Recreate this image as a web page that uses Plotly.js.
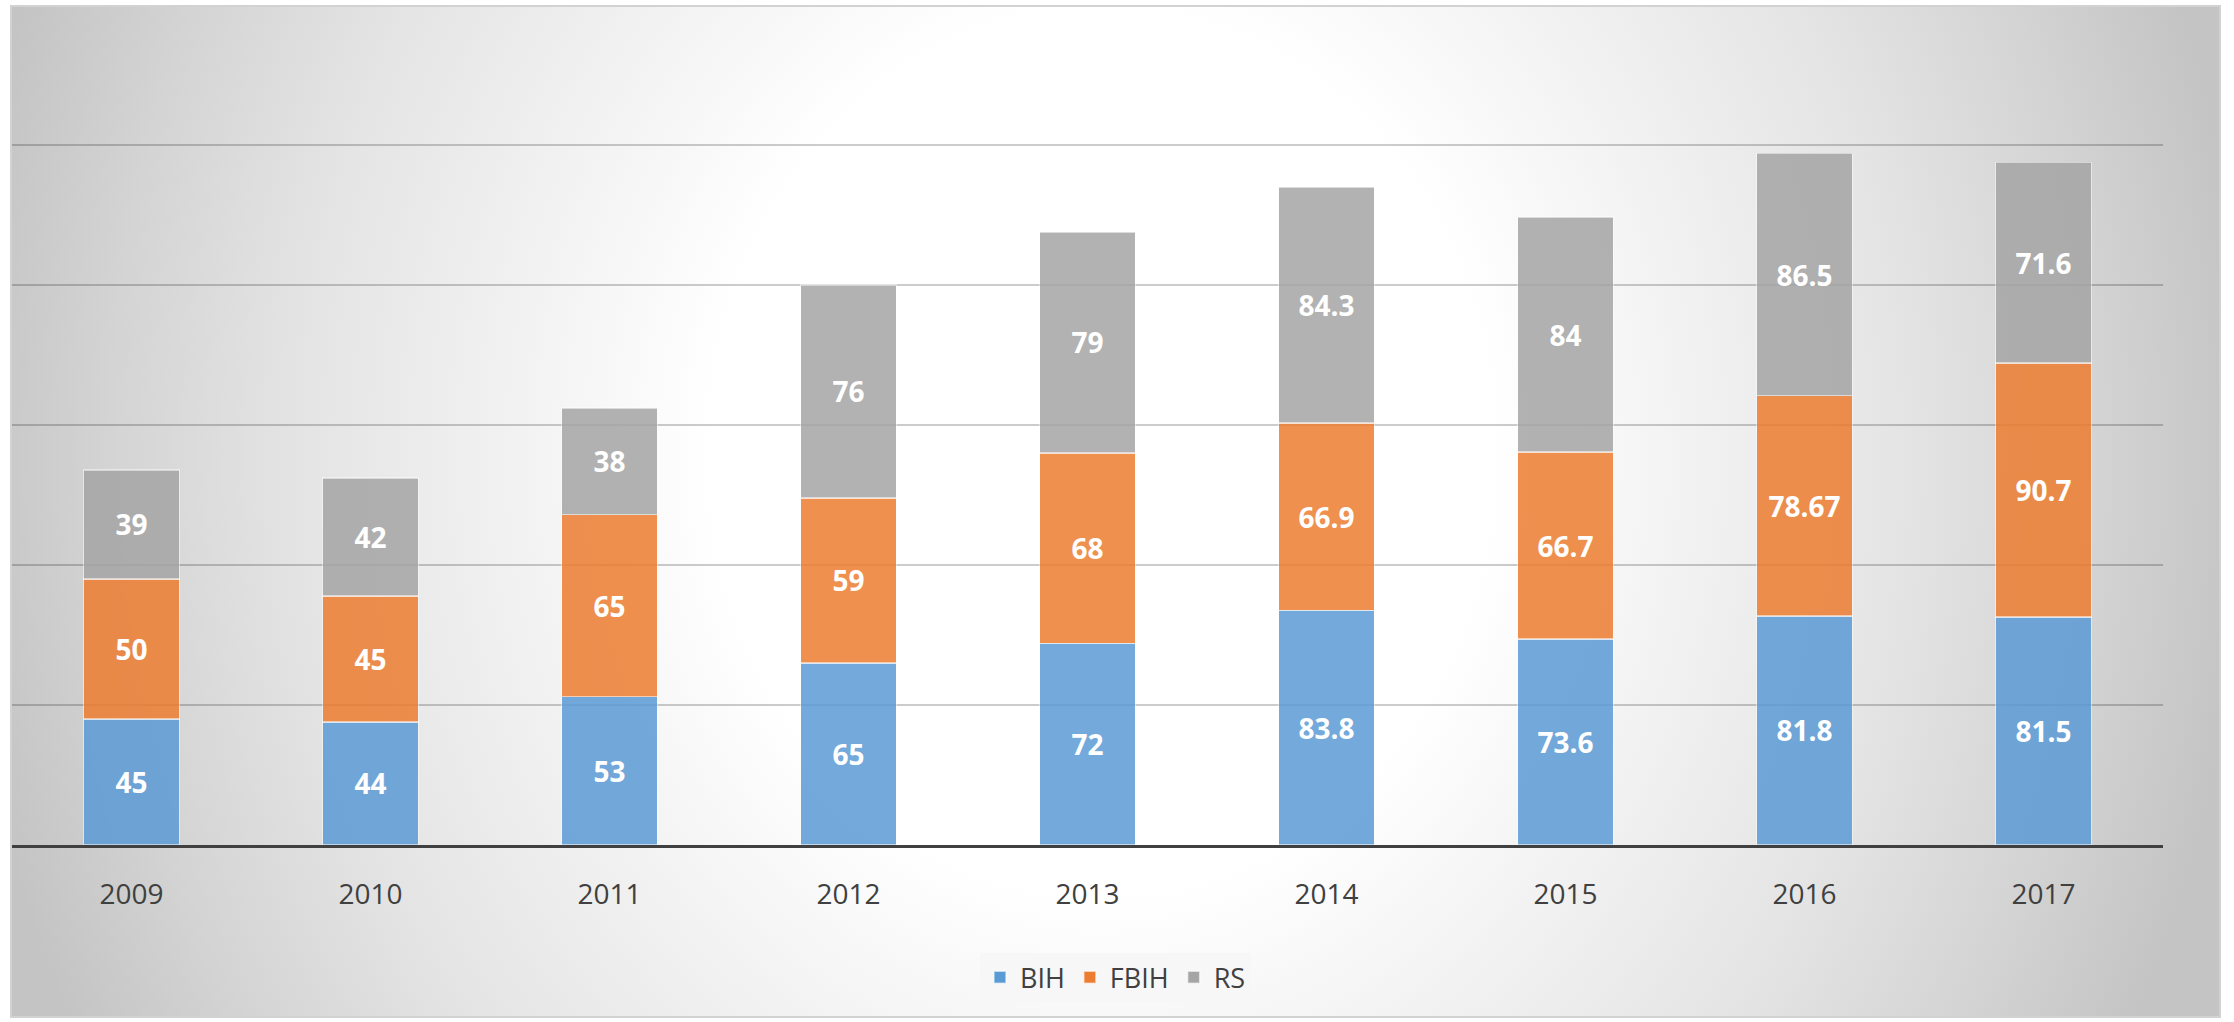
<!DOCTYPE html>
<html>
<head>
<meta charset="utf-8">
<script src="https://cdn.plot.ly/plotly-3.0.1.min.js"></script>
<style>
  html, body { margin: 0; padding: 0; background: #ffffff; }
  #frame {
    position: absolute; left: 10px; top: 5px; width: 2211px; height: 1013px;
    border: 2px solid #d2d2d2; box-sizing: border-box;
    background: radial-gradient(1150px 1300px at 1090px 445px, #ffffff 0%, #ffffff 34%, #f8f8f8 43%, #e4e4e4 70%, #d4d4d4 86%, #c4c4c4 100%);
  }
  #chart { position: absolute; left: 0; top: 0; width: 2234px; height: 1022px; }
</style>
</head>
<body>
<div id="frame"></div>
<div id="chart"></div>
<script>
const years = ['2009','2010','2011','2012','2013','2014','2015','2016','2017'];
const bih  = [45, 44, 53, 65, 72, 83.8, 73.6, 81.8, 81.5];
const fbih = [50, 45, 65, 59, 68, 66.9, 66.7, 78.67, 90.7];
const rs   = [39, 42, 38, 76, 79, 84.3, 84, 86.5, 71.6];
const gridTicks = [0, 50, 100, 150, 200, 250];

function series(name, vals, color) {
  return {
    type: 'bar', name: name, x: years, y: vals,
    text: vals.map(v => String(v)),
    texttemplate: '%{text}',
    textposition: 'inside', insidetextanchor: 'middle', textangle: 0,
    constraintext: 'none',
    insidetextfont: { family: 'Open Sans, sans-serif', size: 28, color: '#ffffff', weight: 'bold' },
    marker: { color: color, opacity: 0.85, line: { color: 'rgba(255,255,255,0.55)', width: 1.5 } },
    hoverinfo: 'x+y+name'
  };
}

const data = [
  series('BIH', bih, '#5B9BD5'),
  series('FBIH', fbih, '#ED7D31'),
  series('RS', rs, '#A5A5A5')
];

const layout = {
  width: 2234, height: 1022,
  paper_bgcolor: 'rgba(0,0,0,0)', plot_bgcolor: 'rgba(0,0,0,0)',
  margin: { l: 12, r: 71, t: 5, b: 177 },
  barmode: 'stack', bargap: 0.6,
  showlegend: true,
  legend: {
    orientation: 'h', x: 0.513, xanchor: 'center', y: -0.158, yanchor: 'middle',
    bgcolor: '#f7f7f7', font: { family: 'Open Sans, sans-serif', size: 27, color: '#404040' },
    traceorder: 'normal', itemwidth: 30
  },
  xaxis: {
    type: 'category', showgrid: false, zeroline: false,
    showline: true, linecolor: '#404040', linewidth: 3,
    ticks: '', ticklabelstandoff: 22,
    tickfont: { family: 'Open Sans, sans-serif', size: 28, color: '#404040' }
  },
  yaxis: {
    range: [0, 300], tickvals: gridTicks, showticklabels: false,
    showgrid: true, gridcolor: 'rgba(0,0,0,0.2)', gridwidth: 2,
    zeroline: false, showline: false, fixedrange: true
  },
  font: { family: 'Open Sans, sans-serif' }
};

Plotly.newPlot('chart', data, layout, { displayModeBar: false, staticPlot: true });
</script>
</body>
</html>
